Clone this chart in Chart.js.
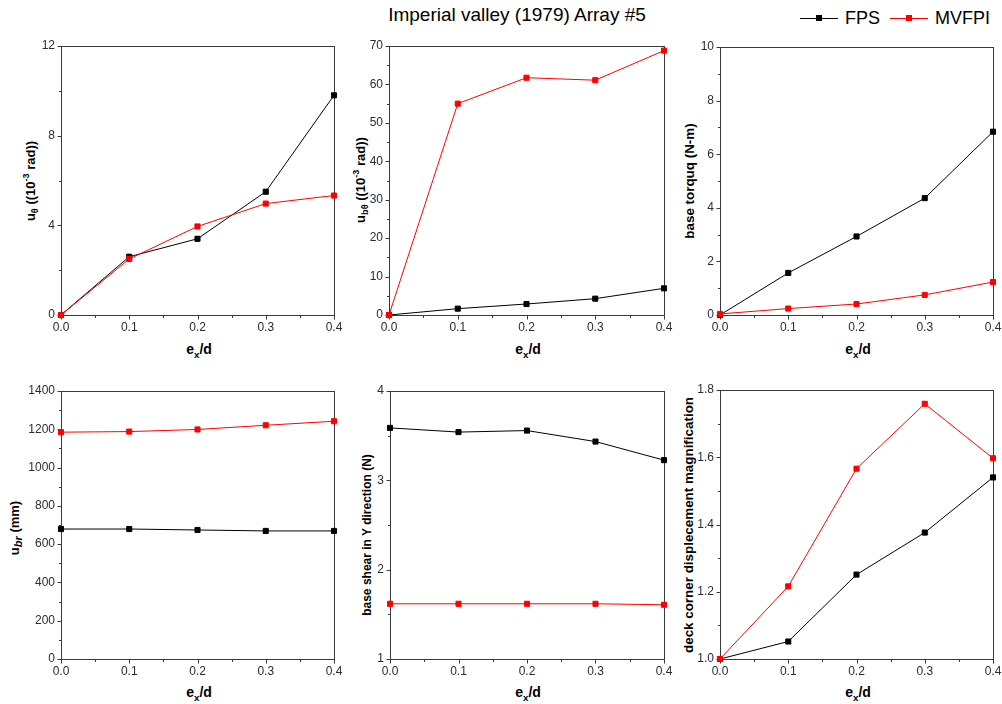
<!DOCTYPE html>
<html><head><meta charset="utf-8">
<script src="https://cdn.jsdelivr.net/npm/chart.js@4"></script>
<style>
body{margin:0;background:#fff;width:1002px;height:704px;position:relative;overflow:hidden;font-family:"Liberation Sans",Arial,sans-serif;color:#000;}
canvas.c{position:absolute;}
.yt{position:absolute;transform:translate(-50%,-50%) rotate(-90deg);white-space:nowrap;font-weight:bold;font-size:13px;}
.xt{position:absolute;transform:translate(-50%,-50%);white-space:nowrap;font-weight:bold;font-size:14px;}
sub,sup{font-size:70%;line-height:0;}
sub.it{font-style:italic;font-size:85%;}
#title{position:absolute;left:517px;top:15px;transform:translate(-50%,-50%);font-size:19px;white-space:nowrap;}
.lg{position:absolute;font-size:18px;top:18px;transform:translateY(-50%);white-space:nowrap;}
.ll{position:absolute;height:1px;top:18px;}
.lm{position:absolute;width:6px;height:6px;top:15px;}
</style></head>
<body>
<div id="title">Imperial valley (1979) Array #5</div>
<div class="ll" style="left:800px;width:38px;background:#000"></div>
<div class="lm" style="left:816px;background:#000"></div>
<div class="lg" style="left:845px">FPS</div>
<div class="ll" style="left:890px;width:38px;background:#f00"></div>
<div class="lm" style="left:906px;background:#f00"></div>
<div class="lg" style="left:935px">MVFPI</div>

<div class="yt" style="left:30px;top:181px">u<sub>θ</sub> ((10<sup>-3</sup> rad))</div>
<div class="yt" style="left:360px;top:180px">u<sub>bθ</sub> ((10<sup>-3</sup> rad))</div>
<div class="yt" style="left:689px;top:181px;font-size:13.4px">base torquq (N-m)</div>
<div class="yt" style="left:14px;top:528px">u<sub class="it">br</sub> (mm)</div>
<div class="yt" style="left:367px;top:535px;font-size:12px">base shear in Y direction (N)</div>
<div class="yt" style="left:688px;top:525px;font-size:13.4px">deck corner displecement magnification</div>

<div class="xt" style="left:199px;top:349px">e<sub>x</sub>/d</div>
<div class="xt" style="left:528px;top:349px">e<sub>x</sub>/d</div>
<div class="xt" style="left:858px;top:349px">e<sub>x</sub>/d</div>
<div class="xt" style="left:199px;top:692px">e<sub>x</sub>/d</div>
<div class="xt" style="left:528px;top:692px">e<sub>x</sub>/d</div>
<div class="xt" style="left:858px;top:692px">e<sub>x</sub>/d</div>

<script>
// ---- data ----
const xValues = [0, 0.1, 0.2, 0.3, 0.4];
const xTickLabels = ['0.0', '0.1', '0.2', '0.3', '0.4'];
const seriesNames = ['FPS', 'MVFPI'];

const rotFPS = [0, 2.6, 3.4, 5.5, 9.8];
const rotMVFPI = [0, 2.5, 3.95, 4.97, 5.33];
const baseRotFPS = [0, 1.65, 2.86, 4.25, 6.94];
const baseRotMVFPI = [0, 55.0, 61.75, 61.1, 68.8];
const torqueFPS = [0, 1.57, 2.93, 4.36, 6.84];
const torqueMVFPI = [0.04, 0.24, 0.41, 0.75, 1.23];
const bearingDispFPS = [679, 679, 674, 669, 669];
const bearingDispMVFPI = [1185, 1188, 1199, 1221, 1242];
const shearYFPS = [3.587, 3.54, 3.557, 3.434, 3.226];
const shearYMVFPI = [1.618, 1.618, 1.618, 1.618, 1.607];
const cornerMagFPS = [1.0, 1.052, 1.251, 1.376, 1.540];
const cornerMagMVFPI = [1.0, 1.216, 1.566, 1.759, 1.597];

const yTicks1 = ['0', '4', '8', '12'];
const yTicks2 = ['0', '10', '20', '30', '40', '50', '60', '70'];
const yTicks3 = ['0', '2', '4', '6', '8', '10'];
const yTicks4 = ['0', '200', '400', '600', '800', '1000', '1200', '1400'];
const yTicks5 = ['1', '2', '3', '4'];
const yTicks6 = ['1.0', '1.2', '1.4', '1.6', '1.8'];

// ---- layout ----
const panels = [
  {L:61, R:334, T:46, B:315, fps:rotFPS, mv:rotMVFPI, ticks:yTicks1, minor:2},
  {L:389, R:664, T:46, B:315, fps:baseRotFPS, mv:baseRotMVFPI, ticks:yTicks2, minor:5},
  {L:720, R:993, T:47, B:315, fps:torqueFPS, mv:torqueMVFPI, ticks:yTicks3, minor:1},
  {L:61, R:334, T:391, B:659, fps:bearingDispFPS, mv:bearingDispMVFPI, ticks:yTicks4, minor:100},
  {L:390, R:664, T:391, B:659, fps:shearYFPS, mv:shearYMVFPI, ticks:yTicks5, minor:0.5},
  {L:720, R:993, T:390, B:659, fps:cornerMagFPS, mv:cornerMagMVFPI, ticks:yTicks6, minor:0.1}
];

const PADL = 45, PADT = 10, PADR = 14, PADB = 28;

const framePlugin = {
  id: 'frame',
  beforeDatasetsDraw(chart) {
    const ctx = chart.ctx, a = chart.chartArea;
    const xs = chart.scales.x, ys = chart.scales.y;
    ctx.save();
    ctx.strokeStyle = '#3a3a3a';
    ctx.lineWidth = 1;
    const l = Math.round(a.left) + 0.5, r = Math.round(a.right) + 0.5;
    const t = Math.round(a.top) + 0.5, b = Math.round(a.bottom) + 0.5;
    ctx.strokeRect(l, t, r - l, b - t);
    ctx.beginPath();
    xs.ticks.forEach(tk => {
      const px = Math.round(xs.getPixelForValue(tk.value)) + 0.5;
      const major = Math.abs(tk.value * 10 - Math.round(tk.value * 10)) < 1e-6;
      ctx.moveTo(px, b); ctx.lineTo(px, b + (major ? 4 : 2.5));
    });
    ys.ticks.forEach(tk => {
      const py = Math.round(ys.getPixelForValue(tk.value)) + 0.5;
      const major = tk.label !== '';
      ctx.moveTo(l, py); ctx.lineTo(l - (major ? 4 : 2.5), py);
    });
    ctx.stroke();
    ctx.restore();
  }
};

panels.forEach((p, i) => {
  const cv = document.createElement('canvas');
  cv.className = 'c';
  const w = (p.R - p.L) + PADL + PADR, h = (p.B - p.T) + PADT + PADB;
  cv.style.left = (p.L - PADL) + 'px';
  cv.style.top = (p.T - PADT) + 'px';
  cv.style.width = w + 'px';
  cv.style.height = h + 'px';
  cv.width = w; cv.height = h;
  document.body.appendChild(cv);

  const yMin = parseFloat(p.ticks[0]);
  const yMax = parseFloat(p.ticks[p.ticks.length - 1]);
  const majorStep = parseFloat(p.ticks[1]) - yMin;

  const mk = (arr) => xValues.map((x, k) => ({x: x, y: arr[k]}));
  new Chart(cv, {
    type: 'line',
    data: {
      datasets: [
        {label: seriesNames[1], data: mk(p.mv), borderColor: '#ff0000', backgroundColor: '#ff0000',
         borderWidth: 1, pointStyle: 'rect', pointRadius: 3.6, pointBorderWidth: 1, order: 0, clip: false},
        {label: seriesNames[0], data: mk(p.fps), borderColor: '#000000', backgroundColor: '#000000',
         borderWidth: 1, pointStyle: 'rect', pointRadius: 3.6, pointBorderWidth: 1, order: 1, clip: false}
      ]
    },
    options: {
      responsive: false, animation: false, devicePixelRatio: 1,
      layout: {padding: {top: PADT, right: PADR, left: 0, bottom: 0}},
      plugins: {legend: {display: false}, tooltip: {enabled: false}},
      scales: {
        x: {
          type: 'linear', min: 0, max: 0.4,
          grid: {display: false, drawTicks: false}, border: {display: false},
          ticks: {
            stepSize: 0.05, padding: 5, color: '#2b2b3a', maxRotation: 0, autoSkip: false,
            font: {family: '"Liberation Sans", Arial, sans-serif', size: 12},
            callback: (v) => {
              const k = Math.round(v * 10);
              return Math.abs(v * 10 - k) < 1e-6 ? xTickLabels[k] : '';
            }
          },
          afterFit: (s) => { s.height = PADB; s.paddingLeft = 0; s.paddingRight = 0; }
        },
        y: {
          type: 'linear', min: yMin, max: yMax,
          grid: {display: false, drawTicks: false}, border: {display: false},
          ticks: {
            stepSize: p.minor, padding: 6, color: '#2b2b3a', autoSkip: false,
            font: {family: '"Liberation Sans", Arial, sans-serif', size: 12},
            callback: (v) => {
              const k = (v - yMin) / majorStep;
              const kr = Math.round(k);
              return Math.abs(k - kr) < 1e-6 ? p.ticks[kr] : '';
            }
          },
          afterFit: (s) => { s.width = PADL; s.paddingTop = 0; s.paddingBottom = 0; }
        }
      }
    },
    plugins: [framePlugin]
  });
});
</script>
</body></html>
